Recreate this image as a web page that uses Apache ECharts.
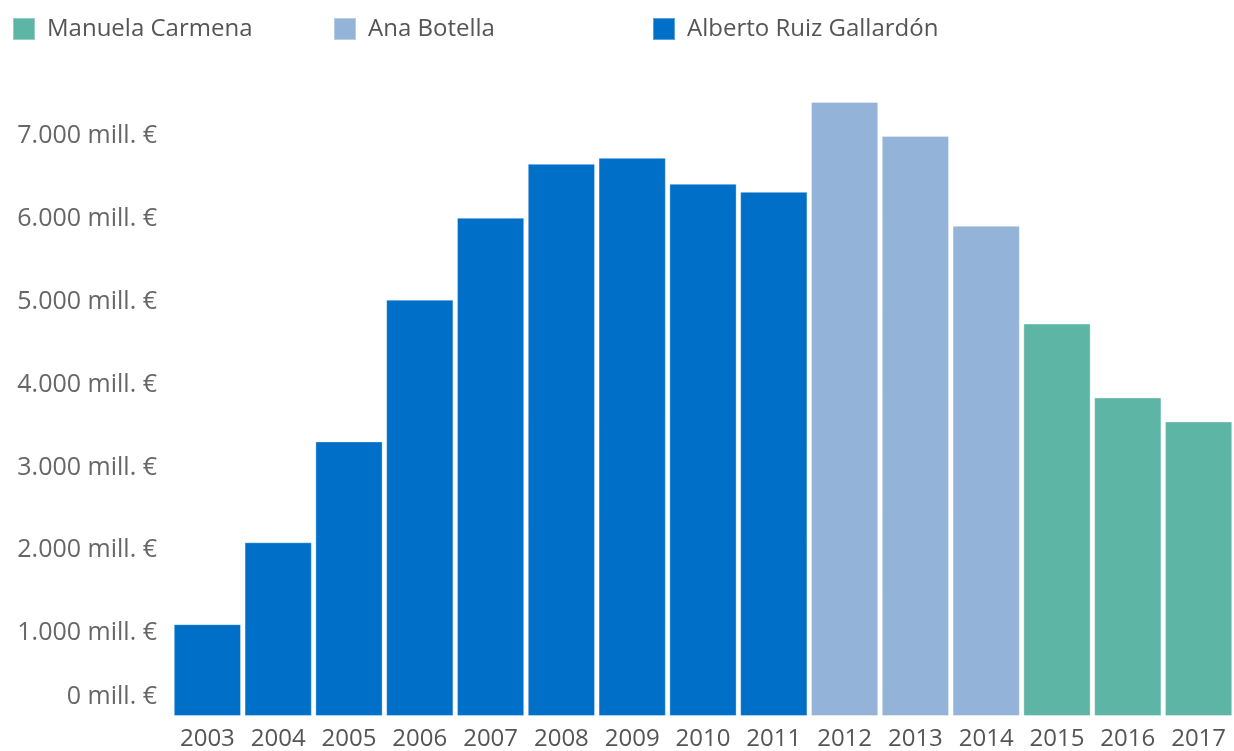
<!DOCTYPE html>
<html>
<meta charset="UTF-8">
<title>deuda-madrid</title>
<style type="text/css">
    html,
    body {
        margin: 0px;
        height: 100%;
        width: 100%;
    }

    #chart {
        width: 1234px;
        height: 751px;
    }
</style>
<script src="https://cdn.jsdelivr.net/npm/echarts@6/dist/echarts.min.js"></script>

<body>
    <div id="chart"></div>
    <script>

        const years = ['2003', '2004', '2005', '2006', '2007', '2008', '2009', '2010',
            '2011', '2012', '2013', '2014', '2015', '2016', '2017'];
        // deuda en millones de euros
        const gallardon = [1108, 2096, 3313, 5024, 6012, 6663, 6735, 6422, 6325, null, null, null, null, null, null];
        const botella = [null, null, null, null, null, null, null, null, null, 7410, 7000, 5916, null, null, null];
        const carmena = [null, null, null, null, null, null, null, null, null, null, null, null, 4735, 3843, 3554];
        const yTicks = [0, 1000, 2000, 3000, 4000, 5000, 6000, 7000];

        const font = 'Open Sans';
        const chart = echarts.init(document.querySelector('#chart'));

        function fmt(v) {
            const s = String(v).replace(/\B(?=(\d{3})+(?!\d))/g, '.');
            return s + ' mill. €';
        }

        function legendAt(name, left) {
            return {
                data: [name],
                left: left,
                top: 17,
                padding: 0,
                icon: 'rect',
                itemWidth: 22,
                itemHeight: 22,
                itemGap: 14,
                textStyle: { fontFamily: font, fontSize: 24, color: '#555', padding: [0, 0, 0, 7] }
            };
        }

        const bar = (name, data, color) => ({
            name,
            type: 'bar',
            stack: 'deuda',
            data,
            barWidth: '95%',
            itemStyle: { color, borderColor: 'rgba(255,255,255,0.35)', borderWidth: 1 }
        });

        const options = {
            animation: false,
            legend: [
                legendAt('Manuela Carmena', 12),
                legendAt('Ana Botella', 333),
                legendAt('Alberto Ruiz Gallardón', 652)
            ],
            grid: { left: 172, right: 0, top: 53, bottom: 34 },
            xAxis: {
                type: 'category',
                data: years,
                axisLine: { show: false },
                axisTick: { show: false },
                axisLabel: { interval: 0, fontFamily: font, fontSize: 24, color: '#555', margin: 11 }
            },
            yAxis: {
                type: 'value',
                min: 0,
                max: 8000,
                interval: 1000,
                splitLine: { show: false },
                axisLine: { show: false },
                axisTick: { show: false },
                axisLabel: {
                    fontFamily: font, fontSize: 25, color: '#666', margin: 15,
                    showMaxLabel: false,
                    formatter: v => yTicks.indexOf(v) < 0 ? '' : (v === 0 ? '{z|' + fmt(v) + '}' : fmt(v)),
                    rich: { z: { fontFamily: font, fontSize: 25, color: '#666', padding: [0, 0, 38, 0] } }
                }
            },
            series: [
                bar('Manuela Carmena', carmena, '#5cb5a5'),
                bar('Ana Botella', botella, '#93b4d8'),
                bar('Alberto Ruiz Gallardón', gallardon, '#006fc8')
            ]
        };
        chart.setOption(options);

    </script>
</body>

</html>
